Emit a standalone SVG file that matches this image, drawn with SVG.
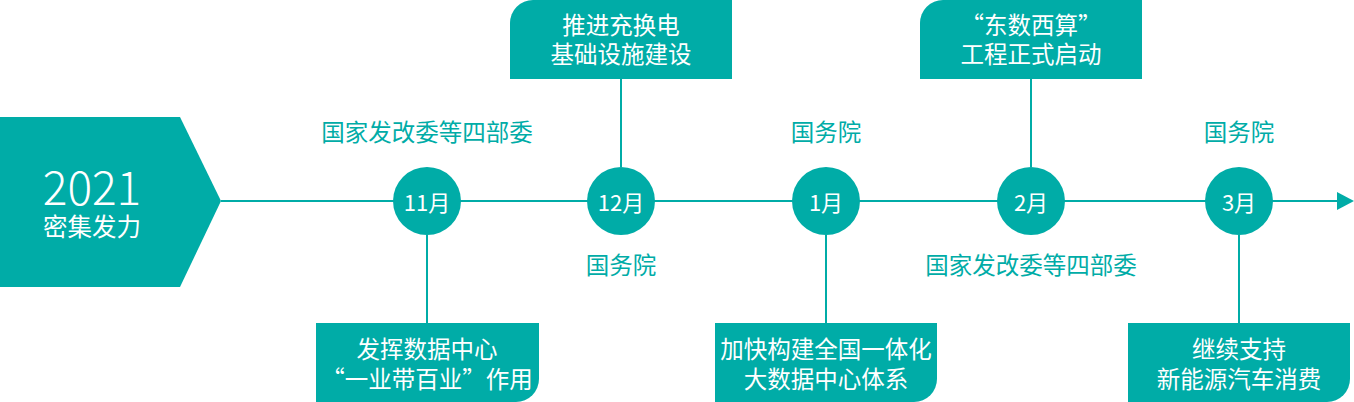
<svg xmlns="http://www.w3.org/2000/svg" width="1354" height="402" viewBox="0 0 1354 402">
<style>
.fill{fill:#00aca7}
.ln{stroke:#00aca7;stroke-width:2;fill:none}
text{font-family:"Noto Sans CJK SC","Noto Sans",sans-serif}
.w{fill:#ffffff;text-anchor:middle;dominant-baseline:central}
.bx{font-size:23.5px}
.c{font-size:22px}
.lb{fill:#00aca7;font-size:23.5px;text-anchor:middle;dominant-baseline:central}
</style>
<rect width="1354" height="402" fill="#ffffff"/>
<g id="connectors">
<line class="ln" x1="221" y1="201" x2="1338" y2="201"/>
<polygon class="fill" points="1337,192 1354,201 1337,210"/>
<line class="ln" x1="427" y1="235" x2="427" y2="323"/>
<line class="ln" x1="621" y1="79" x2="621" y2="167"/>
<line class="ln" x1="826" y1="235" x2="826" y2="323"/>
<line class="ln" x1="1031" y1="79" x2="1031" y2="167"/>
<line class="ln" x1="1239" y1="235" x2="1239" y2="323"/>
</g>
<g id="start">
<path class="fill" d="M0,117 H180 L221,201 L180,287 H0 Z"/>
<text x="92" y="205" fill="#ffffff" text-anchor="middle" font-size="46" font-weight="300">2021</text>
<text class="w" x="92" y="225" font-size="24.5">密集发力</text>
</g>
<g id="m11">
<circle class="fill" cx="427" cy="201" r="34"/>
<text class="w c" x="427" y="201">11月</text>
<text class="lb" x="427" y="131">国家发改委等四部委</text>
</g>
<g id="m12">
<circle class="fill" cx="621" cy="201" r="34"/>
<text class="w c" x="621" y="201">12月</text>
<text class="lb" x="621" y="264">国务院</text>
</g>
<g id="m1">
<circle class="fill" cx="826" cy="201" r="34"/>
<text class="w c" x="826" y="201">1月</text>
<text class="lb" x="826" y="131">国务院</text>
</g>
<g id="m2">
<circle class="fill" cx="1031" cy="201" r="34"/>
<text class="w c" x="1031" y="201">2月</text>
<text class="lb" x="1031" y="264">国家发改委等四部委</text>
</g>
<g id="m3">
<circle class="fill" cx="1239" cy="201" r="34"/>
<text class="w c" x="1239" y="201">3月</text>
<text class="lb" x="1239" y="131">国务院</text>
</g>
<g id="box12">
<path class="fill" d="M510,79 V23 A23,23 0 0 1 533,0 H732 V79 Z"/>
<text class="w bx" x="621" y="24">推进充换电</text>
<text class="w bx" x="621" y="53">基础设施建设</text>
</g>
<g id="box2">
<path class="fill" d="M920,79 V23 A23,23 0 0 1 943,0 H1142 V79 Z"/>
<text class="w bx" x="1031" y="24">“东数西算”</text>
<text class="w bx" x="1031" y="53">工程正式启动</text>
</g>
<g id="box11">
<path class="fill" d="M316,323 H539 V379 A23,23 0 0 1 516,402 H316 Z"/>
<text class="w bx" x="427" y="348">发挥数据中心</text>
<text class="w bx" x="427" y="378">“一业带百业”作用</text>
</g>
<g id="box1">
<path class="fill" d="M715,323 H937 V379 A23,23 0 0 1 914,402 H715 Z"/>
<text class="w bx" x="826" y="348">加快构建全国一体化</text>
<text class="w bx" x="826" y="378">大数据中心体系</text>
</g>
<g id="box3">
<path class="fill" d="M1128,323 H1350 V379 A23,23 0 0 1 1327,402 H1128 Z"/>
<text class="w bx" x="1239" y="348">继续支持</text>
<text class="w bx" x="1239" y="378">新能源汽车消费</text>
</g>
</svg>
